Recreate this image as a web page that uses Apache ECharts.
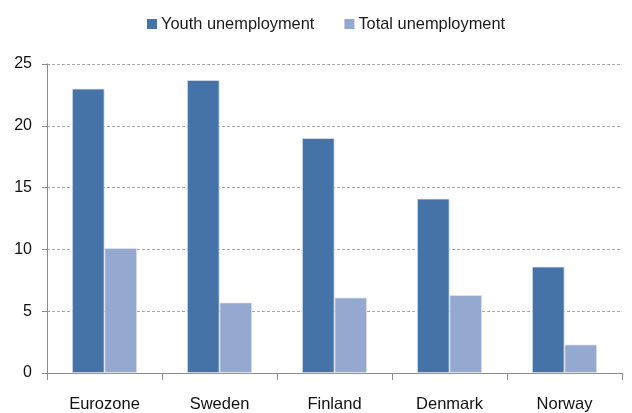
<!DOCTYPE html>
<html>
<head>
<meta charset="utf-8">
<script src="https://cdn.jsdelivr.net/npm/echarts@6/dist/echarts.min.js"></script>
<style>
  html, body { margin: 0; padding: 0; background: #fff; }
  #chart { width: 632px; height: 413px; }
</style>
</head>
<body>
<div id="chart"></div>
<script>
// Unemployment rates (%) by region
const categories = ['Eurozone', 'Sweden', 'Finland', 'Denmark', 'Norway'];
const youthUnemployment = [23.0, 23.7, 19.0, 14.1, 8.6];
const totalUnemployment = [10.1, 5.7, 6.1, 6.3, 2.3];
const yTicks = [0, 5, 10, 15, 20, 25];

const FONT = 'Liberation Sans';
const YOUTH_COLOR = '#4572A7';
const TOTAL_COLOR = '#95A9D0';

const chart = echarts.init(document.getElementById('chart'), null, { renderer: 'canvas' });

chart.setOption({
  animation: false,
  textStyle: { fontFamily: FONT },
  legend: {
    left: 142,
    top: 11,
    itemWidth: 10,
    itemHeight: 10,
    itemGap: 30,
    icon: 'rect',
    textStyle: { fontFamily: FONT, fontSize: 16.4, color: '#1a1a1a', padding: [0, 0, 0, -1] },
    data: [
      { name: 'Youth unemployment', itemStyle: { color: YOUTH_COLOR, borderWidth: 0 } },
      { name: 'Total unemployment', itemStyle: { color: TOTAL_COLOR, borderWidth: 0 } }
    ]
  },
  grid: { left: 47, right: 10, top: 64, bottom: 40, containLabel: false },
  xAxis: {
    type: 'category',
    data: categories,
    boundaryGap: true,
    axisLine: { lineStyle: { color: '#8c8c8c', width: 1 } },
    axisTick: { show: true, length: 7, lineStyle: { color: '#8c8c8c' } },
    axisLabel: { fontFamily: FONT, fontSize: 16.5, color: '#111', margin: 23 }
  },
  yAxis: {
    type: 'value',
    min: yTicks[0],
    max: yTicks[yTicks.length - 1],
    interval: 5,
    axisLine: { show: true, lineStyle: { color: '#8c8c8c', width: 1 } },
    axisTick: { show: true, length: 5, lineStyle: { color: '#8c8c8c' } },
    axisLabel: { fontFamily: FONT, fontSize: 16, color: '#111', margin: 15 },
    splitLine: { show: true, lineStyle: { color: '#a8a8a8', type: [3, 2], width: 1 } }
  },
  series: [
    {
      name: 'Youth unemployment',
      type: 'bar',
      data: youthUnemployment,
      barWidth: 32.5,
      barGap: '0%',
      itemStyle: { color: YOUTH_COLOR, borderColor: 'rgba(220,230,242,0.9)', borderWidth: 0.8 }
    },
    {
      name: 'Total unemployment',
      type: 'bar',
      data: totalUnemployment,
      barWidth: 32.5,
      barGap: '0%',
      itemStyle: { color: TOTAL_COLOR, borderColor: 'rgba(220,230,242,0.9)', borderWidth: 0.8 }
    }
  ]
});
</script>
</body>
</html>
